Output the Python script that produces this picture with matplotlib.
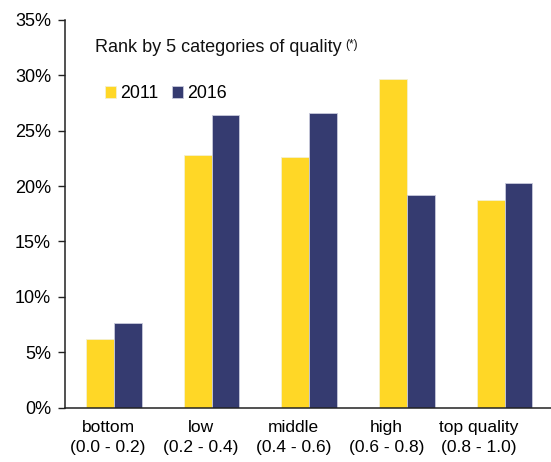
import numpy as np
import matplotlib
matplotlib.use("Agg")
import matplotlib.pyplot as plt

plt.rcParams["font.family"] = ["Liberation Sans", "DejaVu Sans"]

CATEGORIES = ["bottom\n(0.0 - 0.2)", "low\n(0.2 - 0.4)", "middle\n(0.4 - 0.6)",
              "high\n(0.6 - 0.8)", "top quality\n(0.8 - 1.0)"]
SERIES = ["2011", "2016"]
VALS_2011 = [6.2, 22.8, 22.6, 29.7, 18.7]
VALS_2016 = [7.6, 26.4, 26.6, 19.2, 20.3]
YTICKS = [0, 5, 10, 15, 20, 25, 30, 35]

COL_2011 = "#FFD726"
COL_2016 = "#353B70"

W, H = 551, 462
fig = plt.figure(figsize=(W / 100, H / 100), dpi=100)
ax = fig.add_axes([65 / W, 1 - 407.5 / H, (W - 65) / W, (407.5 - 20) / H])

x = np.arange(len(CATEGORIES))
bw = 0.285
ax.bar(x - bw / 2, VALS_2011, bw, color=COL_2011, edgecolor="#f4f0d0", linewidth=0.6, label=SERIES[0])
ax.bar(x + bw / 2, VALS_2016, bw, color=COL_2016, edgecolor="#c8cadc", linewidth=0.6, label=SERIES[1])

ax.set_xlim(-0.5, 4.475)
ax.set_ylim(0, 35)
ax.set_yticks(YTICKS)
ax.set_yticklabels([f"{t}%" for t in YTICKS])
# category labels in the original sit on a slightly narrower spacing than the bars
ax.set_xticks(x * 0.949 - 0.059)
ax.set_xticklabels(CATEGORIES, fontsize=12.5, linespacing=1.45)
ax.tick_params(axis="x", length=0, pad=9)
ax.tick_params(axis="y", length=5, width=1, direction="out", labelsize=13, pad=5, color="#222222")
for s in ["top", "right"]:
    ax.spines[s].set_visible(False)
for s in ["left", "bottom"]:
    ax.spines[s].set_linewidth(1.1)
    ax.spines[s].set_color("#222222")

# title inside the plot area
fig.text(95 / W, 1 - 52 / H, "Rank by 5 categories of quality", fontsize=13, color="#111111")
fig.text(345 / W, 1 - 39 / H, "(*)", fontsize=8.5, color="#111111", va="top")

ax.legend(loc="upper left", bbox_to_anchor=(105 / W, 1 - 85 / H), bbox_transform=fig.transFigure,
          ncol=2, frameon=False, fontsize=12.8, handlelength=0.62, handleheight=0.62,
          handletextpad=0.22, columnspacing=0.8, borderaxespad=0, borderpad=0)

fig.savefig("out.png", dpi=100)
